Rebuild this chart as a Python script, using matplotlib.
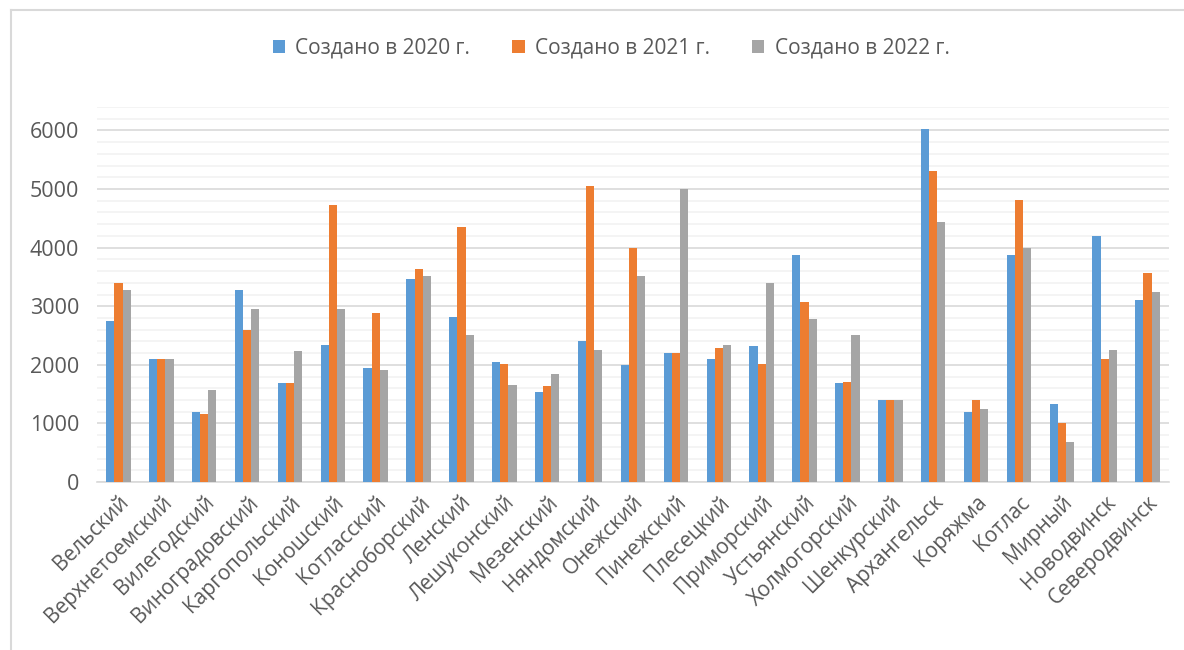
import matplotlib.pyplot as plt
import numpy as np
from matplotlib.lines import Line2D

plt.rcParams['font.family'] = ['Open Sans', 'DejaVu Sans']

districts = ['Вельский', 'Верхнетоемский', 'Вилегодский', 'Виноградовский',
             'Каргопольский', 'Коношский', 'Котласский', 'Красноборский',
             'Ленский', 'Лешуконский', 'Мезенский', 'Няндомский', 'Онежский',
             'Пинежский', 'Плесецкий', 'Приморский', 'Устьянский',
             'Холмогорский', 'Шенкурский', 'Архангельск', 'Коряжма', 'Котлас',
             'Мирный', 'Новодвинск', 'Северодвинск']
y2020 = [2750, 2100, 1200, 3280, 1690, 2340, 1950, 3470, 2820, 2050, 1530, 2400, 2000,
         2210, 2100, 2320, 3870, 1690, 1400, 6030, 1200, 3870, 1330, 4200, 3100]
y2021 = [3390, 2100, 1160, 2600, 1690, 4720, 2890, 3630, 4350, 2010, 1640, 5050, 4000,
         2210, 2280, 2010, 3080, 1710, 1400, 5310, 1400, 4810, 1000, 2100, 3560]
y2022 = [3280, 2100, 1570, 2950, 2230, 2950, 1920, 3520, 2510, 1660, 1840, 2250, 3520,
         5000, 2340, 3390, 2780, 2510, 1400, 4430, 1240, 4000, 680, 2250, 3250]
series_names = ['Создано в 2020 г.', 'Создано в 2021 г.', 'Создано в 2022 г.']
colors = ['#5B9BD5', '#ED7D31', '#A5A5A5']

fig = plt.figure(figsize=(11.84, 6.5), dpi=100)
ax = fig.add_axes([97 / 1184, 1 - 482 / 650, (1169 - 97) / 1184, (482 - 107) / 650])

x = np.arange(len(districts))
w = 0.19
for i, (vals, c, name) in enumerate(zip([y2020, y2021, y2022], colors, series_names)):
    ax.bar(x + (i - 1) * w, vals, width=w, color=c, label=name, zorder=3)

ax.set_xlim(-0.5, len(districts) - 0.5)
ax.set_ylim(0, 6400)
ax.set_yticks(range(0, 6001, 1000))
ax.set_yticks(range(0, 6401, 200), minor=True)
ax.grid(axis='y', which='major', color='#D9D9D9', linewidth=1.2, zorder=0)
ax.grid(axis='y', which='minor', color='#F2F2F2', linewidth=1.2, zorder=0)
for s in ['top', 'right', 'left']:
    ax.spines[s].set_visible(False)
ax.spines['bottom'].set_color('#D9D9D9')
ax.spines['bottom'].set_linewidth(1.2)
ax.tick_params(axis='both', which='both', length=0)
ax.tick_params(axis='y', labelsize=15.5, labelcolor='#595959', pad=13)
ax.set_xticks(x)
ax.set_xticklabels(districts, rotation=45, ha='right', rotation_mode='anchor',
                   fontsize=15, color='#595959')
ax.tick_params(axis='x', pad=7)

fig.legend(loc='center', bbox_to_anchor=(611 / 1184, 1 - 48 / 650), ncol=3,
           frameon=False, fontsize=15, labelcolor='#595959',
           handlelength=0.6, handleheight=0.6, handletextpad=0.5, columnspacing=2.0)

# chart area border
fig.add_artist(Line2D([11 / 1184, 11 / 1184], [0, 1 - 10 / 650], color='#D9D9D9', lw=1.5))
fig.add_artist(Line2D([11 / 1184, 1], [1 - 10 / 650, 1 - 10 / 650], color='#D9D9D9', lw=1.5))

fig.savefig('out.png', dpi=100, facecolor='white')
